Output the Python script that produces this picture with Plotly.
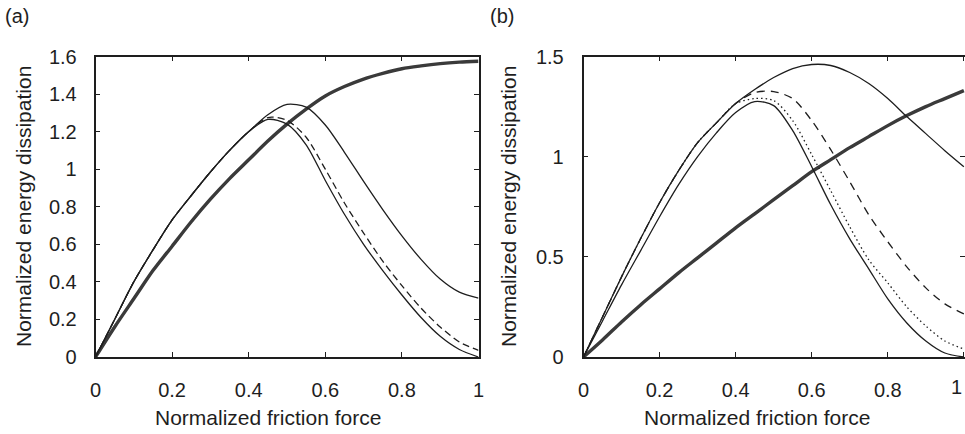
import plotly.graph_objects as go

# ---------------- data ----------------
friction = [0.00, 0.05, 0.10, 0.15, 0.20, 0.25, 0.30, 0.35, 0.40, 0.45, 0.50,
            0.55, 0.60, 0.65, 0.70, 0.75, 0.80, 0.85, 0.90, 0.95, 1.00]

# panel (a)
a_solid_high = [0, 0.20, 0.40, 0.57, 0.73, 0.86, 0.985, 1.10, 1.20, 1.29, 1.345,
                1.33, 1.235, 1.09, 0.935, 0.785, 0.645, 0.52, 0.415, 0.345, 0.313]
a_solid_low = [0, 0.20, 0.40, 0.57, 0.73, 0.86, 0.985, 1.10, 1.20, 1.265, 1.24,
               1.13, 0.94, 0.76, 0.60, 0.46, 0.33, 0.21, 0.11, 0.04, 0.0]
a_dashed = [0, 0.20, 0.40, 0.57, 0.73, 0.86, 0.985, 1.10, 1.20, 1.275, 1.26,
            1.17, 1.00, 0.82, 0.66, 0.51, 0.38, 0.26, 0.16, 0.08, 0.035]
a_marked = [0, 0.16, 0.31, 0.46, 0.59, 0.72, 0.84, 0.95, 1.05, 1.15, 1.24,
            1.32, 1.39, 1.44, 1.48, 1.51, 1.535, 1.55, 1.562, 1.57, 1.575]

# panel (b)
b_solid_high = [0, 0.20, 0.40, 0.59, 0.77, 0.93, 1.07, 1.17, 1.265, 1.335, 1.395,
                1.44, 1.46, 1.455, 1.42, 1.365, 1.29, 1.20, 1.115, 1.03, 0.95]
b_solid_low = [0, 0.18, 0.36, 0.53, 0.70, 0.86, 1.00, 1.12, 1.22, 1.275, 1.255,
               1.13, 0.95, 0.76, 0.59, 0.44, 0.29, 0.17, 0.08, 0.02, 0.0]
b_dotted = [0, 0.20, 0.40, 0.59, 0.77, 0.93, 1.07, 1.17, 1.265, 1.29, 1.28,
            1.18, 1.01, 0.83, 0.65, 0.485, 0.37, 0.25, 0.155, 0.08, 0.04]
b_dashed = [0, 0.20, 0.40, 0.59, 0.77, 0.93, 1.07, 1.17, 1.265, 1.32, 1.325,
            1.29, 1.18, 1.035, 0.875, 0.71, 0.575, 0.45, 0.345, 0.265, 0.215]
b_marked = [0, 0.085, 0.175, 0.26, 0.34, 0.42, 0.495, 0.57, 0.645, 0.715, 0.785,
            0.855, 0.925, 0.985, 1.045, 1.10, 1.155, 1.205, 1.25, 1.29, 1.33]

x_tickvals = [0, 0.2, 0.4, 0.6, 0.8, 1.0]
x_ticktext = ["0", "0.2", "0.4", "0.6", "0.8", "1"]
ya_tickvals = [0, 0.2, 0.4, 0.6, 0.8, 1.0, 1.2, 1.4, 1.6]
ya_ticktext = ["0", "0.2", "0.4", "0.6", "0.8", "1", "1.2", "1.4", "1.6"]
yb_tickvals = [0, 0.5, 1.0, 1.5]
yb_ticktext = ["0", "0.5", "1", "1.5"]

x_title = "Normalized friction force"
y_title = "Normalized energy dissipation"
panel_labels = ["(a)", "(b)"]

# ---------------- figure ----------------
INK = "#1e1e1e"
W, H = 965, 434
FONT = "Liberation Sans, Arial, sans-serif"

fig = go.Figure()


def add_line(y, xa, ya, dash="solid", width=1.3, color=INK):
    fig.add_trace(go.Scatter(
        x=friction, y=y, xaxis=xa, yaxis=ya, mode="lines",
        line=dict(color=color, width=width, dash=dash, shape="spline", smoothing=0.8),
        showlegend=False, hoverinfo="skip"))


# panel (a)
add_line(a_marked, "x", "y", width=3.4, color="#3a3a3a")
add_line(a_dashed, "x", "y", dash="7px,4px")
add_line(a_solid_low, "x", "y")
add_line(a_solid_high, "x", "y")

# panel (b)
add_line(b_marked, "x2", "y2", width=3.4, color="#3a3a3a")
add_line(b_dashed, "x2", "y2", dash="8px,6px")
add_line(b_dotted, "x2", "y2", dash="1.5px,3px", width=1.3)
add_line(b_solid_low, "x2", "y2")
add_line(b_solid_high, "x2", "y2")

ya_bot = (H - 357) / H
ya_top = (H - 56.5) / H

axis_common = dict(
    showline=True, linecolor=INK, linewidth=1.6, mirror="ticks",
    ticks="inside", ticklen=5, tickwidth=1, tickcolor=INK,
    showgrid=False, zeroline=False, automargin=False,
    tickfont=dict(family=FONT, size=20, color=INK),
)

fig.update_layout(
    width=W, height=H,
    margin=dict(l=0, r=0, t=0, b=0, pad=0),
    paper_bgcolor="white", plot_bgcolor="white",
    xaxis=dict(domain=[95.5 / W, 478.5 / W], range=[0, 1], anchor="y",
               tickvals=x_tickvals, ticktext=x_ticktext, ticklabelstandoff=14,
               **axis_common),
    yaxis=dict(domain=[ya_bot, ya_top], range=[0, 1.6], anchor="x",
               tickvals=ya_tickvals, ticktext=ya_ticktext, ticklabelstandoff=13,
               **axis_common),
    xaxis2=dict(domain=[583.5 / W, 1.0], range=[0, 1.003], anchor="y2",
                tickvals=x_tickvals, ticktext=x_ticktext, ticklabelstandoff=14,
                **axis_common),
    yaxis2=dict(domain=[ya_bot, ya_top], range=[0, 1.5], anchor="x2",
                tickvals=yb_tickvals, ticktext=yb_ticktext, ticklabelstandoff=14,
                **axis_common),
)

ann_font = dict(family=FONT, size=21, color=INK)
lab_font = dict(family=FONT, size=20, color=INK)
annotations = [
    dict(text=x_title, x=268 / W, y=(H - 417) / H, xref="paper", yref="paper",
         xanchor="center", yanchor="middle", showarrow=False, font=ann_font),
    dict(text=x_title, x=757 / W, y=(H - 417) / H, xref="paper", yref="paper",
         xanchor="center", yanchor="middle", showarrow=False, font=ann_font),
    dict(text=y_title, x=23 / W, y=(H - 207) / H, xref="paper", yref="paper",
         xanchor="center", yanchor="middle", showarrow=False, textangle=-90, font=ann_font),
    dict(text=y_title, x=508 / W, y=(H - 207) / H, xref="paper", yref="paper",
         xanchor="center", yanchor="middle", showarrow=False, textangle=-90, font=ann_font),
    dict(text=panel_labels[0], x=3 / W, y=(H - 16) / H, xref="paper", yref="paper",
         xanchor="left", yanchor="middle", showarrow=False, font=lab_font),
    dict(text=panel_labels[1], x=488 / W, y=(H - 16) / H, xref="paper", yref="paper",
         xanchor="left", yanchor="middle", showarrow=False, font=lab_font),
    # last x tick label of panel (b), kept inside the page at its right edge
    dict(text=x_ticktext[-1], x=x_tickvals[-1], xref="x2", y=(H - 387) / H, yref="paper",
         xanchor="right", yanchor="middle", showarrow=False, font=lab_font),
]
fig.update_layout(annotations=annotations)

fig.write_html("out.html")
